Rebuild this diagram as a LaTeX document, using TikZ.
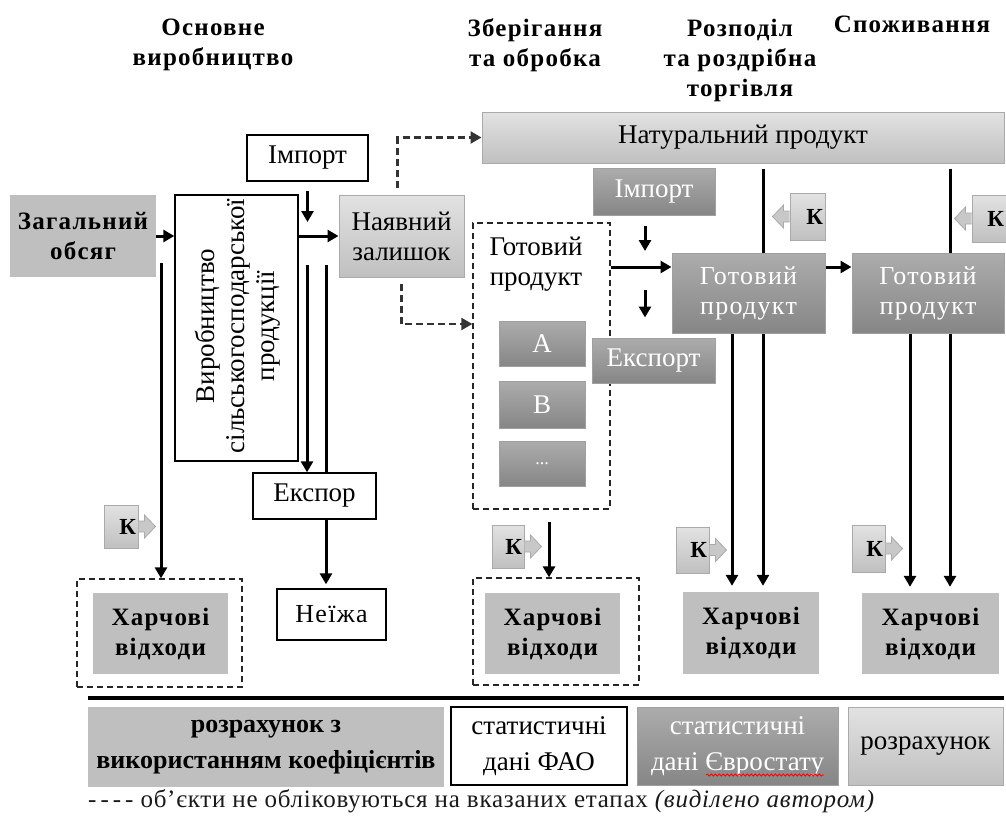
\documentclass[tikz,border=0pt]{standalone}
\usepackage{fontspec}
\setmainfont{Liberation Serif}
\newfontfamily\spc[LetterSpace=5]{Liberation Serif}
\newfontfamily\lspc[LetterSpace=3]{Liberation Serif}
\usetikzlibrary{arrows.meta,backgrounds,decorations.pathmorphing}
\definecolor{gflat}{RGB}{191,191,191}
\definecolor{ltop}{RGB}{226,226,226}
\definecolor{lbot}{RGB}{192,192,192}
\definecolor{lborder}{RGB}{170,170,170}
\definecolor{dtop}{RGB}{172,172,172}
\definecolor{dbot}{RGB}{134,134,134}
\definecolor{dborder}{RGB}{160,160,160}
\definecolor{kfill}{RGB}{200,200,200}
\tikzset{
 base/.style={inner sep=0pt, align=center, font=\fontsize{27}{30}\selectfont},
 wbox/.style={base, draw=black, fill=white, line width=1.4pt},
 flat/.style={base, fill=gflat, font=\spc\bfseries\fontsize{25}{30}\selectfont},
 lgrad/.style={base, draw=lborder, line width=1pt, top color=ltop, bottom color=lbot},
 dgrad/.style={base, draw=dborder, line width=1pt, top color=dtop, bottom color=dbot, text=white},
 dashbox/.style={draw=black!85, line width=1.3pt, dash pattern=on 6pt off 4pt},
 arr/.style={draw=black, line width=3pt, -{Triangle[length=11pt,width=12pt]}},
 dasharr/.style={draw=black!80, line width=2.3pt, dash pattern=on 7pt off 4pt, -{Triangle[length=11pt,width=12pt]}},
 kbox/.style={lgrad, font=\bfseries\fontsize{23}{26}\selectfont, align=right, inner xsep=2pt},
 karrow/.style={fill=kfill, draw=lborder, line width=0.8pt},
 hdr/.style={align=center, font=\spc\bfseries\fontsize{25}{30}\selectfont},
 legend/.style={inner sep=0pt, align=center, font=\fontsize{27}{36}\selectfont},
}
\begin{document}
\begin{tikzpicture}[x=1pt,y=-1pt]
\useasboundingbox (0,0) rectangle (1006,816);

% headers
\node[hdr] (h1) at (213,45) {Основне\\виробництво};
\node[hdr] (h2) at (535,45) {Зберігання\\та обробка};
\node[hdr] (h3) at (740,60) {Розподіл\\та роздрібна\\торгівля};
\node[hdr] (h4) at (912,24) {Споживання};

% left part
\node[lgrad, minimum width=522pt, minimum height=51pt] (nat) at (743,137.5) {Натуральний продукт};
\node[wbox, minimum width=121pt, minimum height=46pt] (imp1) at (307.5,158) {Імпорт};
\node[flat, minimum width=146pt, minimum height=82pt] (zag) at (83,236) {Загальний\\обсяг};
\node[wbox, minimum width=123pt, minimum height=266pt] (vyr) at (236.5,328) {};
\node[base, rotate=90] (vyrt) at (238,326) {Виробництво\\сільськогосподарської\\продукції};
\node[lgrad, minimum width=125pt, minimum height=82pt] (nal) at (401.5,236) {Наявний\\залишок};
\node[wbox, minimum width=123pt, minimum height=46pt] (eksp1) at (314.5,496) {Експор};
\node[wbox, minimum width=109pt, minimum height=51pt, font=\spc\fontsize{26}{30}\selectfont] (neizha) at (331.5,614.5) {Неїжа};
\node[dashbox, minimum width=165pt, minimum height=108pt] (kh1box) at (159.5,633) {};
\node[flat, minimum width=135pt, minimum height=81pt] (kh1) at (160.5,633.5) {Харчові\\відходи};

% middle
\node[dashbox, minimum width=137pt, minimum height=286pt] (gp1box) at (541.5,366) {};
\node[base] (gp1) at (536,264) {Готовий\\продукт};
\node[dgrad, minimum width=86pt, minimum height=45pt] (pa) at (542,343.5) {A};
\node[dgrad, minimum width=86pt, minimum height=47pt] (pb) at (542,404.5) {B};
\node[dgrad, minimum width=86pt, minimum height=45pt, font=\fontsize{18}{20}\selectfont] (pc) at (542,463.5) {...};
\node[dgrad, minimum width=122pt, minimum height=47pt] (imp2) at (654,191.5) {Імпорт};
\node[dgrad, minimum width=123pt, minimum height=45pt] (eksp2) at (653.5,360.5) {Експорт};
\node[dgrad, minimum width=153pt, minimum height=80pt, font=\spc\fontsize{26}{30}\selectfont] (gp2) at (748.5,293) {Готовий\\продукт};
\node[dgrad, minimum width=152pt, minimum height=80pt, font=\spc\fontsize{26}{30}\selectfont] (gp3) at (928,293) {Готовий\\продукт};
\node[dashbox, minimum width=166pt, minimum height=107pt] (kh2box) at (556,631.5) {};
\node[flat, minimum width=135pt, minimum height=81pt] (kh2) at (552.5,633.5) {Харчові\\відходи};
\node[flat, minimum width=136pt, minimum height=82pt] (kh3) at (751,633) {Харчові\\відходи};
\node[flat, minimum width=137pt, minimum height=81pt] (kh4) at (930.5,633.5) {Харчові\\відходи};

% K boxes
\node[kbox, text width=30pt, minimum height=43pt] (k1) at (121,526.5) {К};
\filldraw[karrow] (k1.east) ++(0,-5.5) -- ++(6,0) -- ++(0,-6) -- ++(11,11.5) -- ++(-11,11.5) -- ++(0,-6) -- ++(-6,0);
\node[kbox, text width=28pt, minimum height=43pt] (k2) at (508,546.5) {К};
\filldraw[karrow] (k2.east) ++(0,-5.5) -- ++(6,0) -- ++(0,-6) -- ++(11,11.5) -- ++(-11,11.5) -- ++(0,-6) -- ++(-6,0);
\node[kbox, text width=29pt, minimum height=46pt] (k3) at (692.5,550) {К};
\filldraw[karrow] (k3.east) ++(0,-5.5) -- ++(6,0) -- ++(0,-6) -- ++(11,11.5) -- ++(-11,11.5) -- ++(0,-6) -- ++(-6,0);
\node[kbox, text width=29pt, minimum height=47pt] (k4) at (868.5,548.5) {К};
\filldraw[karrow] (k4.east) ++(0,-5.5) -- ++(6,0) -- ++(0,-6) -- ++(11,11.5) -- ++(-11,11.5) -- ++(0,-6) -- ++(-6,0);
\node[kbox, text width=31pt, minimum height=47pt] (k5) at (807.5,216.5) {К};
\filldraw[karrow] (k5.west) ++(0,-5.5) -- ++(-6,0) -- ++(0,-6) -- ++(-11,11.5) -- ++(11,11.5) -- ++(0,-6) -- ++(6,0);
\node[kbox, text width=30pt, minimum height=47pt] (k6) at (989,218.5) {К};
\filldraw[karrow] (k6.west) ++(0,-5.5) -- ++(-6,0) -- ++(0,-6) -- ++(-11,11.5) -- ++(11,11.5) -- ++(0,-6) -- ++(6,0);

% helper coordinates
\coordinate (impEnd) at (307.5,222);
\coordinate (p1) at (307,265);
\coordinate (p2) at (326,265);
\coordinate (p3) at (161,263);
\coordinate (y324) at (0,324);
\coordinate (y267) at (0,267);
\coordinate (d1b) at (645,251);
\coordinate (d2a) at (645,290);
\coordinate (x549) at (549,0);
\coordinate (x732) at (732,0);
\coordinate (x763) at (763,0);
\coordinate (x910) at (910,0);
\coordinate (x950) at (950,0);

\begin{pgfonlayer}{background}
\draw[arr] (zag.east) -- (zag.east -| vyr.west);
\draw[arr, shorten <=9pt] (imp1.south) -- (impEnd);
\draw[arr] (vyr.east |- nal.west) -- (nal.west);
\draw[arr] (p1) -- (p1 |- eksp1.north);
\draw[arr, shorten >=4pt] (p2) -- (p2 |- neizha.north);
\draw[arr] (p3) -- (p3 |- kh1box.north);
\draw[dasharr, shorten <=7pt] ([xshift=-4pt]nal.north) |- (nat.west);
\draw[dasharr, shorten <=6pt] (nal.south) |- (gp1box.west |- y324);
\draw[arr, shorten <=10pt] (imp2.south -| d1b) -- (d1b);
\draw[arr, shorten >=20pt] (d2a) -- (eksp2.north -| d2a);
\draw[arr] (gp1box.east |- y267) -- (gp2.west |- y267);
\draw[arr] (gp2.east |- y267) -- (gp3.west |- y267);
\draw[arr, shorten <=5pt, shorten >=6pt] (nat.south -| x763) -- (kh3.north -| x763);
\draw[arr, shorten >=6pt] (gp2.south -| x732) -- (kh3.north -| x732);
\draw[arr, shorten <=5pt, shorten >=6pt] (nat.south -| x950) -- (kh4.north -| x950);
\draw[arr, shorten >=6pt] (gp3.south -| x910) -- (kh4.north -| x910);
\draw[arr, shorten <=12pt] (gp1box.south -| x549) -- (kh2box.north -| x549);
\end{pgfonlayer}

% legend
\draw[line width=3.5pt] (88,698) -- (1004,698);
\node[legend, fill=gflat, minimum width=356pt, minimum height=80pt, font=\bfseries\fontsize{26}{36}\selectfont] (L1) at (266,747) {розрахунок з\\використанням коефіцієнтів};
\node[legend, draw=black, line width=2pt, fill=white, minimum width=176pt, minimum height=78pt] (L2) at (539,746) {статистичні\\дані ФАО};
\node[legend, draw=dborder, line width=1pt, top color=dtop, bottom color=dbot, text=white, minimum width=201pt, minimum height=78pt] (L3) at (737.5,746) {статистичні\\дані Євростату};
\node[legend, draw=lborder, line width=1pt, top color=ltop, bottom color=lbot, minimum width=155pt, minimum height=78pt] (L4) at (925.5,746) {розрахунок};
\draw[red, line width=0.8pt, decorate, decoration={snake, amplitude=1pt, segment length=4pt}] (706,775) -- (824,775);
\node[anchor=west, inner sep=0pt, font=\lspc\fontsize{25}{30}\selectfont, text=black!90] (note) at (88,801) {-\hspace{4pt}-\hspace{4pt}-\hspace{4pt}- об’єкти не обліковуються на вказаних етапах \textit{(виділено автором)}};
\end{tikzpicture}
\end{document}
